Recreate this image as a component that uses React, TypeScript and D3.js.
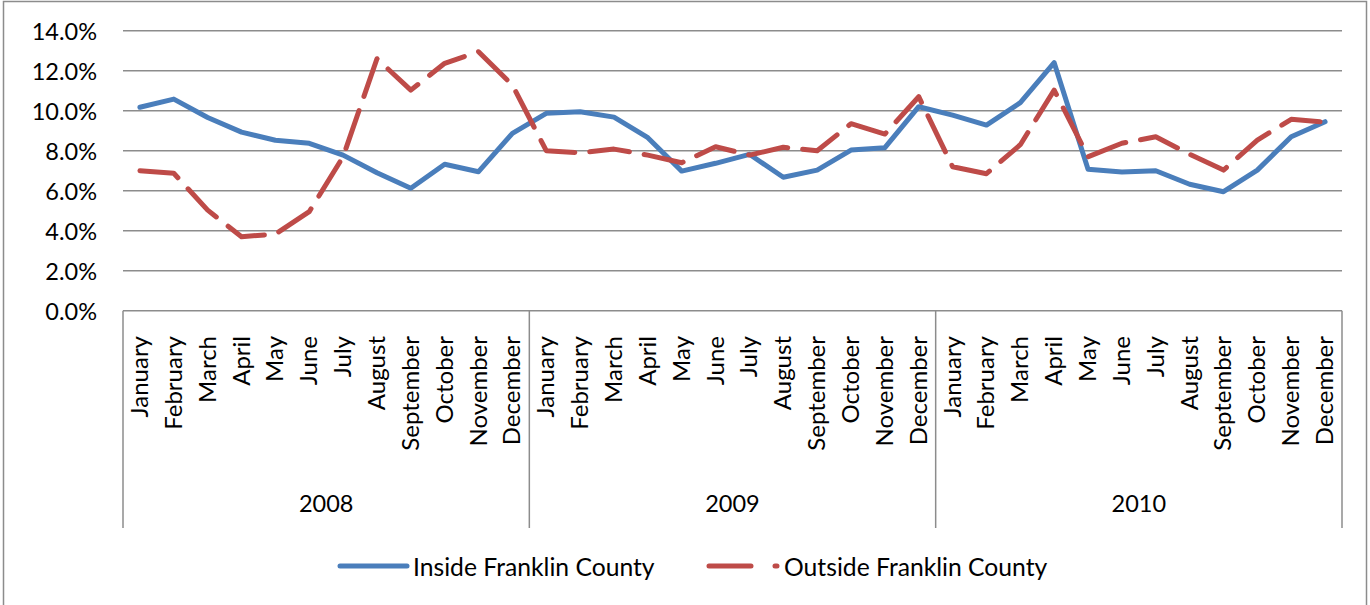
import React from "react";
import * as d3 from "d3";

const months = ["January","February","March","April","May","June","July","August","September","October","November","December"];
const years = ["2008","2009","2010"];
const insideValues = [10.17,10.58,9.66,8.93,8.52,8.37,7.78,6.90,6.12,7.32,6.95,8.87, 9.87,9.95,9.68,8.65,6.98,7.37,7.82,6.67,7.03,8.03,8.15,10.2, 9.78,9.28,10.4,12.4,7.07,6.93,7.0,6.32,5.95,7.03,8.7,9.45];
const outsideValues = [7.0,6.87,5.03,3.7,3.83,4.95,7.7,12.6,11.03,12.37,12.95,11.28, 8.0,7.9,8.08,7.78,7.4,8.2,7.78,8.17,8.0,9.35,8.83,10.7, 7.2,6.85,8.3,11.03,7.7,8.37,8.7,7.82,7.03,8.53,9.57,9.43];
const yTicks = [0,2,4,6,8,10,12,14];
const seriesNames = ["Inside Franklin County","Outside Franklin County"];

const W = 1370, H = 605;
const FONT = "Lato, 'Open Sans', sans-serif";
const BLUE = "#4A7EBB";
const RED = "#BE4B48";
const GRID = "#8c8c8c";

export default function App() {
  const cats = years.flatMap(y => months.map(m => `${y}-${m}`));
  const x = d3.scaleBand<string>().domain(cats).range([123, 1342]).padding(0);
  const y = d3.scaleLinear().domain([0, 14]).range([310.7, 30.7]);
  const cx = (i: number) => (x(cats[i]) as number) + x.bandwidth() / 2;
  const line = d3.line<number>().x((_, i) => cx(i)).y(d => y(d));
  const yearScale = d3.scaleBand<string>().domain(years).range([123, 1342]);

  return (
    <svg width={W} height={H} style={{ position: "absolute", left: 0, top: 0, background: "#fff" }}>
      <rect x={3.5} y={1.5} width={1363} height={640} fill="#fff" stroke={GRID} strokeWidth={1.5} />
      {yTicks.map(t => (
        <g key={t}>
          <line x1={123} x2={1342} y1={y(t)} y2={y(t)} stroke={GRID} strokeWidth={1.5} />
          <text x={97} y={y(t)} textAnchor="end" dominantBaseline="central" fontFamily={FONT} fontSize={23.5} fill="#000">
            {t.toFixed(1)}%
          </text>
        </g>
      ))}
      {[...years.map(yr => yearScale(yr) as number), 1342].map((xv, i) => (
        <line key={i} x1={xv} x2={xv} y1={y(0)} y2={528} stroke={GRID} strokeWidth={1.5} />
      ))}
      {cats.map((c, i) => (
        <text key={c} transform={`translate(${cx(i) + 8},336) rotate(-90)`} textAnchor="end"
          fontFamily={FONT} fontSize={24} fill="#000">
          {months[i % 12]}
        </text>
      ))}
      {years.map(yr => (
        <text key={yr} x={(yearScale(yr) as number) + yearScale.bandwidth() / 2} y={503} textAnchor="middle"
          dominantBaseline="central" fontFamily={FONT} fontSize={23.5} fill="#000">{yr}</text>
      ))}
      <path d={line(insideValues) || ""} fill="none" stroke={BLUE} strokeWidth={5} strokeLinejoin="round" strokeLinecap="round" />
      <path d={line(outsideValues) || ""} fill="none" stroke={RED} strokeWidth={5} strokeLinejoin="round" strokeLinecap="round" strokeDasharray="40 15" />
      <line x1={340} x2={407} y1={566} y2={566} stroke={BLUE} strokeWidth={5} strokeLinecap="round" />
      <text x={413} y={566} dominantBaseline="central" fontFamily={FONT} fontSize={24.7} fill="#000">{seriesNames[0]}</text>
      <line x1={709} x2={777} y1={566} y2={566} stroke={RED} strokeWidth={5} strokeLinecap="round" strokeDasharray="42 24" />
      <text x={784} y={566} dominantBaseline="central" fontFamily={FONT} fontSize={24.7} fill="#000">{seriesNames[1]}</text>
    </svg>
  );
}
